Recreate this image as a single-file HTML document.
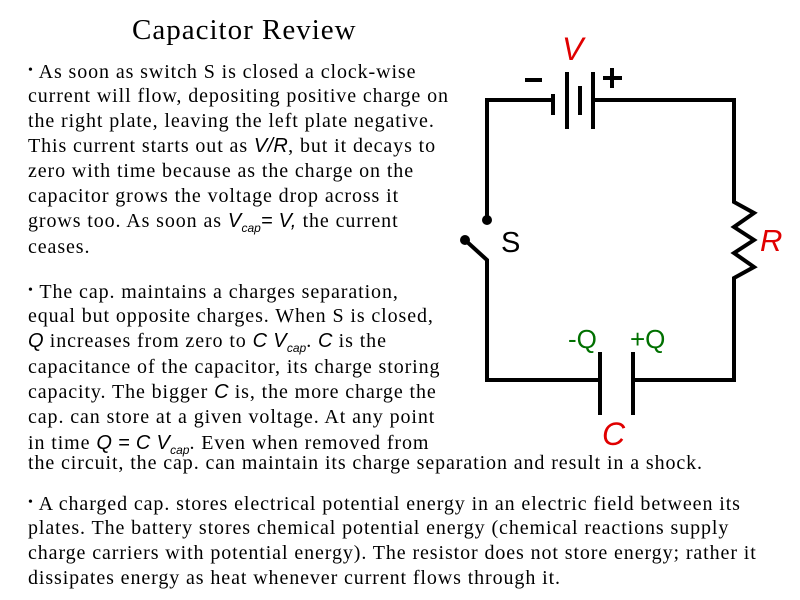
<!DOCTYPE html>
<html><head><meta charset="utf-8"><style>
body{margin:0;width:800px;height:600px;background:#fff;position:relative;overflow:hidden;font-family:"Liberation Serif",serif;}
.l{position:absolute;left:28px;font-size:20px;letter-spacing:0.9px;line-height:22px;white-space:nowrap;color:#000;}
.i{font-family:"Liberation Sans",sans-serif;font-style:italic;letter-spacing:0.3px;}
sub{font-family:"Liberation Sans",sans-serif;font-style:italic;font-size:12px;vertical-align:-5px;line-height:0;letter-spacing:0;}
.b{font-size:14px;vertical-align:4px;}
</style></head><body>
<div style="position:absolute;left:132px;top:14px;font-size:29px;letter-spacing:1px;">Capacitor Review</div>
<div class="l" style="top:60px"><span class="b">•</span> As soon as switch S is closed a clock-wise</div>
<div class="l" style="top:85px">current will flow, depositing positive charge on</div>
<div class="l" style="top:110px">the right plate, leaving the left plate negative.</div>
<div class="l" style="top:135px">This current starts out as <span class="i">V/R</span>, but it decays to</div>
<div class="l" style="top:160px">zero with time because as the charge on the</div>
<div class="l" style="top:185px">capacitor grows the voltage drop across it</div>
<div class="l" style="top:210px">grows too. As soon as <span class="i">V</span><sub>cap</sub><span class="i">= V,</span> the current</div>
<div class="l" style="top:236px">ceases.</div>
<div class="l" style="top:280px"><span class="b">•</span> The cap. maintains a charges separation,</div>
<div class="l" style="top:305px">equal but opposite charges. When S is closed,</div>
<div class="l" style="top:330px"><span class="i">Q</span> increases from zero to <span class="i">C V</span><sub>cap</sub>. <span class="i">C</span> is the</div>
<div class="l" style="top:356px">capacitance of the capacitor, its charge storing</div>
<div class="l" style="top:381px">capacity. The bigger <span class="i">C</span> is, the more charge the</div>
<div class="l" style="top:406px">cap. can store at a given voltage. At any point</div>
<div class="l" style="top:432px">in time <span class="i">Q = C V</span><sub>cap</sub>. Even when removed from</div>
<div class="l" style="top:452px">the circuit, the cap. can maintain its charge separation and result in a shock.</div>
<div class="l" style="top:492px"><span class="b">•</span> A charged cap. stores electrical potential energy in an electric field between its</div>
<div class="l" style="top:517px">plates. The battery stores chemical potential energy (chemical reactions supply</div>
<div class="l" style="top:542px">charge carriers with potential energy). The resistor does not store energy; rather it</div>
<div class="l" style="top:567px">dissipates energy as heat whenever current flows through it.</div>
<svg width="800" height="600" style="position:absolute;left:0;top:0" font-family="Liberation Sans, sans-serif">
<g stroke="#000" stroke-width="4" fill="none">
<polyline points="553,100 487,100 487,220"/>
<polyline points="593,100 734,100 734,202 754,213 734,227 754,240 734,253 754,267 734,278 734,380 633,380"/>
<polyline points="600,380 487,380 487,260 465,240"/>
<line x1="553" y1="94" x2="553" y2="115"/>
<line x1="567" y1="72" x2="567" y2="129"/>
<line x1="580" y1="86" x2="580" y2="115"/>
<line x1="593" y1="72" x2="593" y2="129"/>
<line x1="600" y1="352" x2="600" y2="415"/>
<line x1="633" y1="352" x2="633" y2="415"/>
<line x1="525" y1="80" x2="542" y2="80"/>
<line x1="603" y1="78" x2="622" y2="78"/>
<line x1="612" y1="68" x2="612" y2="88"/>
</g>
<circle cx="487" cy="220" r="5"/><circle cx="465" cy="240" r="5"/>
<text x="562" y="60" font-size="32" font-style="italic" fill="#e00000">V</text>
<text x="501" y="252" font-size="29" fill="#000">S</text>
<text x="760" y="251" font-size="31" font-style="italic" fill="#e00000">R</text>
<text x="568" y="348" font-size="26" fill="#007000">-Q</text>
<text x="630" y="348" font-size="26" fill="#007000">+Q</text>
<text x="602" y="445" font-size="32" font-style="italic" fill="#e00000">C</text>
</svg>
</body></html>
